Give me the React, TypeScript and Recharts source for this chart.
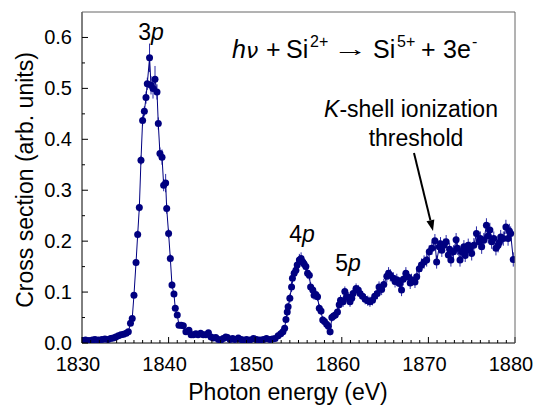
import React from "react";
import { ComposedChart, Line, XAxis, YAxis, ErrorBar } from "recharts";

// ---- data (photon energy in eV, cross section in arb. units, 1-sigma error) ----
const eA = [1830.1, 1830.4, 1830.8, 1831.2, 1831.5, 1831.9, 1832.3, 1832.65, 1833.0, 1833.3, 1833.6, 1833.9, 1834.2, 1834.5, 1834.8, 1835.1];
const vA = [0.005, 0.006, 0.005, 0.006, 0.007, 0.006, 0.007, 0.008, 0.007, 0.009, 0.010, 0.012, 0.014, 0.016, 0.017, 0.019];
const errA = [0.003, 0.003, 0.003, 0.003, 0.003, 0.003, 0.003, 0.003, 0.003, 0.003, 0.004, 0.004, 0.004, 0.004, 0.004, 0.004];

const eB = [1835.35, 1835.6, 1835.8, 1836.0, 1836.24, 1836.43, 1836.62, 1836.81, 1837.0, 1837.2, 1837.39, 1837.54, 1837.8, 1837.97, 1838.2, 1838.43, 1838.66, 1838.81, 1839.0, 1839.24, 1839.43, 1839.66, 1839.78, 1840.0, 1840.2, 1840.39, 1840.62, 1840.77, 1841.0, 1841.2, 1841.45, 1841.7, 1842.0];
const vB = [0.022, 0.039, 0.048, 0.094, 0.158, 0.213, 0.266, 0.359, 0.437, 0.455, 0.482, 0.509, 0.560, 0.506, 0.500, 0.518, 0.493, 0.431, 0.372, 0.365, 0.310, 0.314, 0.264, 0.215, 0.166, 0.114, 0.096, 0.068, 0.055, 0.035, 0.035, 0.034, 0.022];
const errB = [0.004, 0.005, 0.005, 0.006, 0.007, 0.008, 0.008, 0.009, 0.010, 0.010, 0.012, 0.012, 0.028, 0.018, 0.020, 0.026, 0.015, 0.012, 0.012, 0.015, 0.012, 0.018, 0.010, 0.009, 0.008, 0.007, 0.006, 0.006, 0.005, 0.005, 0.004, 0.004, 0.004];

const eC = [1842.35, 1842.6, 1842.85, 1843.15, 1843.4, 1843.7, 1844.0, 1844.3, 1844.6, 1844.9, 1845.15, 1845.45, 1845.75, 1846.05, 1846.3, 1846.6, 1846.8, 1847.1, 1847.4, 1847.65, 1848.05, 1848.35, 1848.6, 1849.0, 1849.4, 1849.8, 1850.15, 1850.55, 1850.95, 1851.3, 1851.7, 1852.0, 1852.3, 1852.65, 1852.95, 1853.2, 1853.4];
const vC = [0.025, 0.016, 0.016, 0.018, 0.016, 0.019, 0.016, 0.016, 0.020, 0.012, 0.010, 0.011, 0.007, 0.006, 0.009, 0.012, 0.011, 0.007, 0.009, 0.007, 0.010, 0.007, 0.006, 0.007, 0.006, 0.009, 0.007, 0.006, 0.007, 0.009, 0.007, 0.008, 0.009, 0.014, 0.018, 0.022, 0.029];
const errC = [0.005, 0.004, 0.004, 0.004, 0.004, 0.004, 0.004, 0.004, 0.005, 0.004, 0.004, 0.004, 0.004, 0.004, 0.004, 0.004, 0.004, 0.004, 0.004, 0.004, 0.004, 0.004, 0.004, 0.004, 0.004, 0.004, 0.004, 0.004, 0.004, 0.004, 0.004, 0.004, 0.004, 0.005, 0.005, 0.005, 0.006];

const eD = [1853.55, 1853.7, 1853.8, 1854.0, 1854.2, 1854.3, 1854.5, 1854.7, 1854.85, 1855.1, 1855.3, 1855.5, 1855.65, 1855.85, 1856.05, 1856.25, 1856.4, 1856.65, 1856.8, 1857.0, 1857.2, 1857.4, 1857.6, 1857.8, 1858.0, 1858.25, 1858.45, 1858.65, 1858.85, 1859.05, 1859.25, 1859.5, 1859.7, 1859.85, 1860.15, 1860.35, 1860.55, 1860.75, 1860.95, 1861.15, 1861.3, 1861.65, 1861.9, 1862.1, 1862.4, 1862.7, 1863.0, 1863.25, 1863.55, 1863.8, 1864.1, 1864.3, 1864.6, 1864.85];
const vD = [0.046, 0.061, 0.071, 0.088, 0.110, 0.127, 0.137, 0.143, 0.153, 0.163, 0.166, 0.159, 0.155, 0.150, 0.137, 0.133, 0.110, 0.104, 0.094, 0.095, 0.091, 0.068, 0.063, 0.045, 0.042, 0.037, 0.033, 0.022, 0.050, 0.053, 0.055, 0.061, 0.075, 0.084, 0.081, 0.101, 0.091, 0.090, 0.081, 0.088, 0.097, 0.107, 0.104, 0.097, 0.092, 0.086, 0.083, 0.081, 0.084, 0.092, 0.097, 0.110, 0.105, 0.115];
const errD = [0.007, 0.008, 0.008, 0.009, 0.010, 0.010, 0.010, 0.011, 0.011, 0.012, 0.012, 0.011, 0.011, 0.011, 0.010, 0.010, 0.010, 0.010, 0.009, 0.009, 0.009, 0.009, 0.008, 0.008, 0.008, 0.008, 0.008, 0.007, 0.008, 0.008, 0.008, 0.009, 0.009, 0.010, 0.010, 0.010, 0.010, 0.010, 0.010, 0.010, 0.010, 0.010, 0.010, 0.010, 0.010, 0.010, 0.010, 0.010, 0.010, 0.010, 0.011, 0.011, 0.011, 0.011];

const eE = [1865.2, 1865.4, 1865.6, 1865.95, 1866.15, 1866.35, 1866.65, 1866.9, 1867.1, 1867.4, 1867.7, 1867.9, 1868.05, 1868.45, 1868.65, 1868.95, 1869.2, 1869.5, 1869.8, 1870.1, 1870.4, 1870.75, 1870.95, 1871.25, 1871.4, 1871.55, 1871.8, 1872.05, 1872.3, 1872.45, 1872.6, 1872.9, 1873.2, 1873.35, 1873.65, 1873.85, 1874.1, 1874.25, 1874.4, 1874.6, 1874.8, 1875.0, 1875.25, 1875.55, 1875.85, 1876.0, 1876.15, 1876.4, 1876.7, 1876.9, 1877.1, 1877.3, 1877.55, 1877.8, 1878.05, 1878.2, 1878.35, 1878.65, 1878.95, 1879.2, 1879.35, 1879.5, 1879.8];
const vE = [0.131, 0.137, 0.133, 0.127, 0.121, 0.124, 0.117, 0.104, 0.125, 0.137, 0.129, 0.118, 0.124, 0.120, 0.130, 0.146, 0.153, 0.159, 0.163, 0.179, 0.186, 0.201, 0.159, 0.189, 0.195, 0.182, 0.192, 0.199, 0.173, 0.184, 0.163, 0.179, 0.203, 0.186, 0.163, 0.179, 0.189, 0.172, 0.182, 0.192, 0.185, 0.176, 0.192, 0.215, 0.199, 0.205, 0.189, 0.202, 0.231, 0.210, 0.222, 0.199, 0.205, 0.186, 0.192, 0.198, 0.208, 0.205, 0.228, 0.205, 0.220, 0.215, 0.164];
const errE = [0.012, 0.012, 0.012, 0.012, 0.012, 0.012, 0.012, 0.012, 0.012, 0.012, 0.012, 0.012, 0.012, 0.012, 0.013, 0.013, 0.013, 0.013, 0.013, 0.013, 0.013, 0.013, 0.013, 0.013, 0.013, 0.013, 0.013, 0.013, 0.013, 0.013, 0.013, 0.013, 0.013, 0.013, 0.013, 0.013, 0.013, 0.013, 0.013, 0.013, 0.014, 0.014, 0.014, 0.014, 0.014, 0.014, 0.014, 0.014, 0.014, 0.014, 0.014, 0.014, 0.014, 0.014, 0.014, 0.014, 0.014, 0.014, 0.014, 0.014, 0.014, 0.014, 0.014];

const xMajorTicks = [1830, 1840, 1850, 1860, 1870, 1880];
const yMajorTicks = [0.0, 0.1, 0.2, 0.3, 0.4, 0.5, 0.6];

const energies = [...eA, ...eB, ...eC, ...eD, ...eE];
const sigma = [...vA, ...vB, ...vC, ...vD, ...vE];
const errors = [...errA, ...errB, ...errC, ...errD, ...errE];
const data = energies.map((e, i) => ({ e, v: sigma[i], err: errors[i] ?? 0.01 }));

// minor tick positions (every 1 eV and every 0.05)
const xTicks: number[] = [];
for (let t = xMajorTicks[0]; t <= xMajorTicks[xMajorTicks.length - 1]; t += 1) xTicks.push(t);
const yTicks: number[] = [];
for (let k = 0; k <= 12; k++) yTicks.push(Math.round(k * 5) / 100);

const FONT = "'Liberation Sans', Arial, Helvetica, sans-serif";
const NAVY = "#000080";

const XTick = (props: any) => {
  const { x, y, payload } = props;
  const val = Math.round(payload.value);
  const major = xMajorTicks.includes(val);
  return (
    <g>
      <line x1={x} x2={x} y1={y} y2={y - (major ? 6 : 3)} stroke="#000" strokeWidth={1} />
      {major && (
        <text x={x - 4} y={y + 28} textAnchor="middle" fontSize={20} fontFamily={FONT} fill="#000">
          {val}
        </text>
      )}
    </g>
  );
};

const YTick = (props: any) => {
  const { x, y, payload } = props;
  const val = payload.value;
  const major = yMajorTicks.some((m) => Math.abs(m - val) < 1e-6);
  return (
    <g>
      <line x1={x} x2={x + (major ? 6 : 3)} y1={y} y2={y} stroke="#000" strokeWidth={1} />
      {major && (
        <text x={x - 10} y={y + 7} textAnchor="end" fontSize={20} fontFamily={FONT} fill="#000">
          {val.toFixed(1)}
        </text>
      )}
    </g>
  );
};

export default function App() {
  const W = 534;
  const H = 406;
  const fy = 58; // baseline of the reaction formula
  return (
    <div style={{ position: "absolute", left: 0, top: 0, width: W, height: H, background: "#fff" }}>
      <ComposedChart width={W} height={H} data={data} margin={{ top: 12, right: 19, left: 0, bottom: 0 }}>
        <XAxis
          dataKey="e"
          type="number"
          domain={[1830, 1880]}
          ticks={xTicks}
          interval={0}
          tick={<XTick />}
          tickLine={false}
          tickSize={0}
          tickMargin={0}
          height={63}
          axisLine={{ stroke: "#000", strokeWidth: 1 }}
          allowDataOverflow
        />
        <YAxis
          type="number"
          domain={[0, 0.65]}
          ticks={yTicks}
          interval={0}
          tick={<YTick />}
          tickLine={false}
          tickSize={0}
          tickMargin={0}
          width={82}
          axisLine={{ stroke: "#000", strokeWidth: 1 }}
          allowDataOverflow
        />
        <Line
          dataKey="v"
          type="linear"
          stroke={NAVY}
          strokeWidth={1}
          dot={{ r: 3.5, fill: NAVY, stroke: "none" }}
          activeDot={false}
          isAnimationActive={false}
        >
          <ErrorBar dataKey="err" width={0} stroke="#2a2aa6" strokeWidth={1} direction="y" isAnimationActive={false} />
        </Line>
      </ComposedChart>
      <svg
        width={W}
        height={H}
        style={{ position: "absolute", left: 0, top: 0, pointerEvents: "none" }}
        fontFamily={FONT}
      >
        {/* frame */}
        <line x1={82} y1={12} x2={515} y2={12} stroke="#666" strokeWidth={1} />
        <line x1={515} y1={12} x2={515} y2={343} stroke="#666" strokeWidth={1} />
        {/* axis titles */}
        <text transform="translate(33,180) rotate(-90)" textAnchor="middle" fontSize={23} fill="#000">
          Cross section (arb. units)
        </text>
        <text x={288} y={400} textAnchor="middle" fontSize={23} fill="#000">
          Photon energy (eV)
        </text>
        {/* peak labels */}
        <text x={151} y={40} textAnchor="middle" fontSize={23} fill="#000">
          3<tspan fontStyle="italic">p</tspan>
        </text>
        <text x={302} y={242} textAnchor="middle" fontSize={23} fill="#000">
          4<tspan fontStyle="italic">p</tspan>
        </text>
        <text x={348} y={271} textAnchor="middle" fontSize={23} fill="#000">
          5<tspan fontStyle="italic">p</tspan>
        </text>
        {/* reaction */}
        <g fill="#000" fontSize={25}>
          <text x={232} y={fy} fontStyle="italic">h</text>
          <text x={246} y={fy} fontStyle="italic" fontFamily="'DejaVu Sans', sans-serif" fontSize={22}>ν</text>
          <text x={266} y={fy}>+</text>
          <text x={286} y={fy}>Si</text>
          <text x={310} y={fy - 11} fontSize={16}>2+</text>
          <text x={333} y={fy - 2} fontSize={22} textLength={35} lengthAdjust="spacingAndGlyphs">→</text>
          <text x={373} y={fy}>Si</text>
          <text x={397} y={fy - 11} fontSize={16}>5+</text>
          <text x={421} y={fy}>+</text>
          <text x={443} y={fy}>3e</text>
          <text x={472} y={fy - 11} fontSize={16}>-</text>
        </g>
        {/* threshold annotation */}
        <text x={411} y={117} textAnchor="middle" fontSize={23} fill="#000">
          <tspan fontStyle="italic">K</tspan>-shell ionization
        </text>
        <text x={416} y={146} textAnchor="middle" fontSize={23} fill="#000">
          threshold
        </text>
        <line x1={414} y1={153} x2={430.4} y2={220.3} stroke="#000" strokeWidth={2} />
        <polygon points="433,231 434.3,219.4 426.5,221.2" fill="#000" />
      </svg>
    </div>
  );
}
